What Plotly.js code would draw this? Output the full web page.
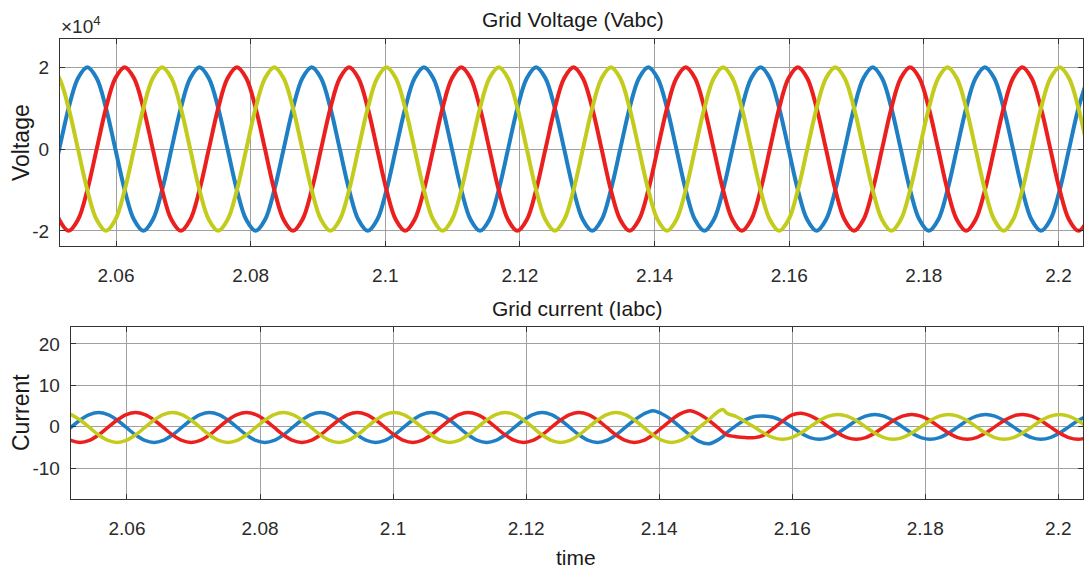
<!DOCTYPE html>
<html>
<head>
<meta charset="utf-8">
<script src="https://cdn.plot.ly/plotly-3.0.1.min.js"></script>
<style>
  html, body { margin: 0; padding: 0; background: #ffffff; }
  #chart { width: 1090px; height: 573px; }
</style>
</head>
<body>
<div id="chart"></div>
<script>
// ---- time samples (s) for the voltage traces ----
var timeV = [
  2.05018,
  2.05157, 2.05296, 2.05435, 2.05574, 2.05713, 2.05851, 2.05990, 2.06129, 2.06268, 2.06407, 2.06546, 2.06685,
  2.06824, 2.06963, 2.07102, 2.07240, 2.07379, 2.07518, 2.07657, 2.07796, 2.07935, 2.08074, 2.08213, 2.08351,
  2.08490, 2.08629, 2.08768, 2.08907, 2.09046, 2.09185, 2.09324, 2.09463, 2.09601, 2.09740, 2.09879, 2.10018,
  2.10157, 2.10296, 2.10435, 2.10574, 2.10713, 2.10851, 2.10990, 2.11129, 2.11268, 2.11407, 2.11546, 2.11685,
  2.11824, 2.11963, 2.12102, 2.12240, 2.12379, 2.12518, 2.12657, 2.12796, 2.12935, 2.13074, 2.13213, 2.13351,
  2.13490, 2.13629, 2.13768, 2.13907, 2.14046, 2.14185, 2.14324, 2.14463, 2.14601, 2.14740, 2.14879, 2.15018,
  2.15157, 2.15296, 2.15435, 2.15574, 2.15713, 2.15851, 2.15990, 2.16129, 2.16268, 2.16407, 2.16546, 2.16685,
  2.16824, 2.16963, 2.17102, 2.17240, 2.17379, 2.17518, 2.17657, 2.17796, 2.17935, 2.18074, 2.18213, 2.18351,
  2.18490, 2.18629, 2.18768, 2.18907, 2.19046, 2.19185, 2.19324, 2.19463, 2.19601, 2.19740, 2.19879, 2.20018,
  2.20157, 2.20296, 2.20435
];

// ---- grid voltage, phases a/b/c (units of 1e4 V) ----
var voltA = [
  -1,
  0, 1, 1.73, 2, 1.73, 1, 0, -1, -1.73, -2, -1.73, -1,
  0, 1, 1.73, 2, 1.73, 1, 0, -1, -1.73, -2, -1.73, -1,
  0, 1, 1.73, 2, 1.73, 1, 0, -1, -1.73, -2, -1.73, -1,
  0, 1, 1.73, 2, 1.73, 1, 0, -1, -1.73, -2, -1.73, -1,
  0, 1, 1.73, 2, 1.73, 1, 0, -1, -1.73, -2, -1.73, -1,
  0, 1, 1.73, 2, 1.73, 1, 0, -1, -1.73, -2, -1.73, -1,
  0, 1, 1.73, 2, 1.73, 1, 0, -1, -1.73, -2, -1.73, -1,
  0, 1, 1.73, 2, 1.73, 1, 0, -1, -1.73, -2, -1.73, -1,
  0, 1, 1.73, 2, 1.73, 1, 0, -1, -1.73, -2, -1.73, -1,
  0, 1, 1.73
];
var voltB = [
  -1,
  -1.73, -2, -1.73, -1, 0, 1, 1.73, 2, 1.73, 1, 0, -1,
  -1.73, -2, -1.73, -1, 0, 1, 1.73, 2, 1.73, 1, 0, -1,
  -1.73, -2, -1.73, -1, 0, 1, 1.73, 2, 1.73, 1, 0, -1,
  -1.73, -2, -1.73, -1, 0, 1, 1.73, 2, 1.73, 1, 0, -1,
  -1.73, -2, -1.73, -1, 0, 1, 1.73, 2, 1.73, 1, 0, -1,
  -1.73, -2, -1.73, -1, 0, 1, 1.73, 2, 1.73, 1, 0, -1,
  -1.73, -2, -1.73, -1, 0, 1, 1.73, 2, 1.73, 1, 0, -1,
  -1.73, -2, -1.73, -1, 0, 1, 1.73, 2, 1.73, 1, 0, -1,
  -1.73, -2, -1.73, -1, 0, 1, 1.73, 2, 1.73, 1, 0, -1,
  -1.73, -2, -1.73
];
var voltC = [
  2,
  1.73, 1, 0, -1, -1.73, -2, -1.73, -1, 0, 1, 1.73, 2,
  1.73, 1, 0, -1, -1.73, -2, -1.73, -1, 0, 1, 1.73, 2,
  1.73, 1, 0, -1, -1.73, -2, -1.73, -1, 0, 1, 1.73, 2,
  1.73, 1, 0, -1, -1.73, -2, -1.73, -1, 0, 1, 1.73, 2,
  1.73, 1, 0, -1, -1.73, -2, -1.73, -1, 0, 1, 1.73, 2,
  1.73, 1, 0, -1, -1.73, -2, -1.73, -1, 0, 1, 1.73, 2,
  1.73, 1, 0, -1, -1.73, -2, -1.73, -1, 0, 1, 1.73, 2,
  1.73, 1, 0, -1, -1.73, -2, -1.73, -1, 0, 1, 1.73, 2,
  1.73, 1, 0, -1, -1.73, -2, -1.73, -1, 0, 1, 1.73, 2,
  1.73, 1, 0
];

// ---- time samples (s) for the current traces (extra sample at the 2.15 s disturbance) ----
var timeI = [
  2.05018,
  2.05157, 2.05296, 2.05435, 2.05574, 2.05713, 2.05851, 2.05990, 2.06129, 2.06268, 2.06407, 2.06546, 2.06685,
  2.06824, 2.06963, 2.07102, 2.07240, 2.07379, 2.07518, 2.07657, 2.07796, 2.07935, 2.08074, 2.08213, 2.08351,
  2.08490, 2.08629, 2.08768, 2.08907, 2.09046, 2.09185, 2.09324, 2.09463, 2.09601, 2.09740, 2.09879, 2.10018,
  2.10157, 2.10296, 2.10435, 2.10574, 2.10713, 2.10851, 2.10990, 2.11129, 2.11268, 2.11407, 2.11546, 2.11685,
  2.11824, 2.11963, 2.12102, 2.12240, 2.12379, 2.12518, 2.12657, 2.12796, 2.12935, 2.13074, 2.13213, 2.13351,
  2.13490, 2.13629, 2.13768, 2.13907, 2.14046, 2.14185, 2.14324, 2.14463, 2.14601, 2.14740, 2.14879, 2.14960, 2.15018,
  2.15157, 2.15296, 2.15435, 2.15574, 2.15713, 2.15851, 2.15990, 2.16129, 2.16268, 2.16407, 2.16546, 2.16685,
  2.16824, 2.16963, 2.17102, 2.17240, 2.17379, 2.17518, 2.17657, 2.17796, 2.17935, 2.18074, 2.18213, 2.18351,
  2.18490, 2.18629, 2.18768, 2.18907, 2.19046, 2.19185, 2.19324, 2.19463, 2.19601, 2.19740, 2.19879, 2.20018,
  2.20157, 2.20296, 2.20435
];

// ---- grid current, phases a/b/c (A) ----
var currA = [
  -1.95,
  -0.15, 1.65, 2.97, 3.45, 2.97, 1.65, -0.15, -1.95, -3.27, -3.75, -3.27, -1.95,
  -0.15, 1.65, 2.97, 3.45, 2.97, 1.65, -0.15, -1.95, -3.27, -3.75, -3.27, -1.95,
  -0.15, 1.65, 2.97, 3.45, 2.97, 1.65, -0.15, -1.95, -3.27, -3.75, -3.27, -1.95,
  -0.15, 1.65, 2.97, 3.45, 2.97, 1.65, -0.15, -1.95, -3.27, -3.75, -3.27, -1.95,
  -0.15, 1.65, 2.97, 3.45, 2.97, 1.65, -0.15, -1.95, -3.27, -3.75, -3.27, -1.95,
  -0.15, 1.65, 3.1, 3.9, 3.1, 1.7, -0.15, -2.0, -3.5, -4.1, -3.2, -2.3, -1.4,
  0.3, 1.7, 2.5, 2.6, 2.3, 1.4, 0, -1.5, -2.6, -3, -2.6, -1.5,
  0, 1.5, 2.6, 3, 2.6, 1.5, 0, -1.5, -2.6, -3, -2.6, -1.5,
  0, 1.5, 2.6, 3, 2.6, 1.5, 0, -1.5, -2.6, -3, -2.6, -1.5,
  0, 1.5, 2.6
];
var currB = [
  -1.95,
  -3.27, -3.75, -3.27, -1.95, -0.15, 1.65, 2.97, 3.45, 2.97, 1.65, -0.15, -1.95,
  -3.27, -3.75, -3.27, -1.95, -0.15, 1.65, 2.97, 3.45, 2.97, 1.65, -0.15, -1.95,
  -3.27, -3.75, -3.27, -1.95, -0.15, 1.65, 2.97, 3.45, 2.97, 1.65, -0.15, -1.95,
  -3.27, -3.75, -3.27, -1.95, -0.15, 1.65, 2.97, 3.45, 2.97, 1.65, -0.15, -1.95,
  -3.27, -3.75, -3.27, -1.95, -0.15, 1.65, 2.97, 3.45, 2.97, 1.65, -0.15, -1.95,
  -3.27, -3.75, -3.27, -1.95, -0.15, 1.7, 3.2, 3.9, 3.1, 1.65, -0.15, -1.3, -1.95,
  -2.4, -2.6, -2.6, -2.0, -0.4, 1.3, 2.8, 3.3, 2.7, 1.5, 0, -1.5,
  -2.6, -3, -2.6, -1.5, 0, 1.5, 2.6, 3, 2.6, 1.5, 0, -1.5,
  -2.6, -3, -2.6, -1.5, 0, 1.5, 2.6, 3, 2.6, 1.5, 0, -1.5,
  -2.6, -3, -2.6
];
var currC = [
  3.45,
  2.97, 1.65, -0.15, -1.95, -3.27, -3.75, -3.27, -1.95, -0.15, 1.65, 2.97, 3.45,
  2.97, 1.65, -0.15, -1.95, -3.27, -3.75, -3.27, -1.95, -0.15, 1.65, 2.97, 3.45,
  2.97, 1.65, -0.15, -1.95, -3.27, -3.75, -3.27, -1.95, -0.15, 1.65, 2.97, 3.45,
  2.97, 1.65, -0.15, -1.95, -3.27, -3.75, -3.27, -1.95, -0.15, 1.65, 2.97, 3.45,
  2.97, 1.65, -0.15, -1.95, -3.27, -3.75, -3.27, -1.95, -0.15, 1.65, 2.97, 3.45,
  2.97, 1.65, -0.15, -1.95, -3.27, -3.75, -3.27, -1.95, -0.15, 1.65, 3.6, 4.2, 3.3,
  2.5, 1.2, -0.1, -1.5, -2.6, -3, -2.6, -1.5, 0, 1.5, 2.6, 3,
  2.6, 1.5, 0, -1.5, -2.6, -3, -2.6, -1.5, 0, 1.5, 2.6, 3,
  2.6, 1.5, 0, -1.5, -2.6, -3, -2.6, -1.5, 0, 1.5, 2.6, 3,
  2.6, 1.5, 0
];

// ---- axis ticks ----
var xTicks = [2.06, 2.08, 2.1, 2.12, 2.14, 2.16, 2.18, 2.2];
var xTickText = ['2.06', '2.08', '2.1', '2.12', '2.14', '2.16', '2.18', '2.2'];
var vTicks = [-2, 0, 2];
var vTickText = ['-2', '0', '2'];
var iTicks = [-10, 0, 10, 20];
var iTickText = ['-10', '0', '10', '20'];

var colA = '#1f7fc4';
var colB = '#ec1f1f';
var colC = '#c3cc1c';

function tr(x, y, col, xa, ya, w) {
  return { x: x, y: y, type: 'scatter', mode: 'lines', xaxis: xa, yaxis: ya,
           line: { color: col, width: w, shape: 'spline', smoothing: 1 },
           hoverinfo: 'skip' };
}

var data = [
  tr(timeV, voltA, colA, 'x', 'y', 4),
  tr(timeV, voltB, colB, 'x', 'y', 4),
  tr(timeV, voltC, colC, 'x', 'y', 4),
  tr(timeI, currA, colA, 'x2', 'y2', 3.5),
  tr(timeI, currB, colB, 'x2', 'y2', 3.5),
  tr(timeI, currC, colC, 'x2', 'y2', 3.5)
];

var axisCommon = {
  showgrid: true, gridcolor: '#a0a0a0', gridwidth: 1,
  zeroline: false,
  showline: true, linecolor: '#333333', linewidth: 1, mirror: 'ticks',
  ticks: 'inside', ticklen: 5, tickcolor: '#333333',
  tickfont: { family: 'Liberation Sans, Arial, sans-serif', size: 19, color: '#2b2b2b' },
  fixedrange: true
};

function merge(a, b) { var o = {}; for (var k in a) o[k] = a[k]; for (var k2 in b) o[k2] = b[k2]; return o; }

var W = 1090, H = 573;
function px(v) { return v / W; }
function py(v) { return 1 - v / H; }

var layout = {
  width: W, height: H,
  margin: { l: 0, r: 0, t: 0, b: 0, pad: 0 },
  paper_bgcolor: '#ffffff', plot_bgcolor: '#ffffff',
  showlegend: false,
  font: { family: 'Liberation Sans, Arial, sans-serif', color: '#262626' },
  xaxis: merge(axisCommon, {
    domain: [px(60), px(1083)], range: [2.05168, 2.20364],
    tickvals: xTicks, ticktext: xTickText, anchor: 'y', ticklabelstandoff: 12
  }),
  yaxis: merge(axisCommon, {
    domain: [py(246), py(39)], range: [-2.37, 2.69],
    tickvals: vTicks, ticktext: vTickText, anchor: 'x', ticklabelstandoff: 6
  }),
  xaxis2: merge(axisCommon, {
    domain: [px(70.7), px(1083.3)], range: [2.05154, 2.20376],
    tickvals: xTicks, ticktext: xTickText, anchor: 'y2', ticklabelstandoff: 12
  }),
  yaxis2: merge(axisCommon, {
    domain: [py(499), py(327.3)], range: [-17.4, 24],
    tickvals: iTicks, ticktext: iTickText, anchor: 'x2', ticklabelstandoff: 6
  }),
  annotations: [
    { text: 'Grid Voltage (Vabc)', xref: 'paper', yref: 'paper', x: px(573), y: py(19),
      xanchor: 'center', yanchor: 'middle', showarrow: false,
      font: { size: 21, color: '#1a1a1a' } },
    { text: 'Grid current (Iabc)', xref: 'paper', yref: 'paper', x: px(577), y: py(308),
      xanchor: 'center', yanchor: 'middle', showarrow: false,
      font: { size: 21, color: '#1a1a1a' } },
    { text: 'time', xref: 'paper', yref: 'paper', x: px(576), y: py(557),
      xanchor: 'center', yanchor: 'middle', showarrow: false,
      font: { size: 21, color: '#1a1a1a' } },
    { text: 'Voltage', xref: 'paper', yref: 'paper', x: px(21), y: py(143),
      xanchor: 'center', yanchor: 'middle', showarrow: false, textangle: -90,
      font: { size: 23, color: '#1a1a1a' } },
    { text: 'Current', xref: 'paper', yref: 'paper', x: px(21), y: py(413),
      xanchor: 'center', yanchor: 'middle', showarrow: false, textangle: -90,
      font: { size: 23, color: '#1a1a1a' } },
    { text: '\u00d710<sup>4</sup>', xref: 'paper', yref: 'paper', x: px(59), y: py(25),
      xanchor: 'left', yanchor: 'middle', showarrow: false,
      font: { size: 19, color: '#2b2b2b' } }
  ]
};

Plotly.newPlot('chart', data, layout, { displayModeBar: false, staticPlot: true });
</script>
</body>
</html>
